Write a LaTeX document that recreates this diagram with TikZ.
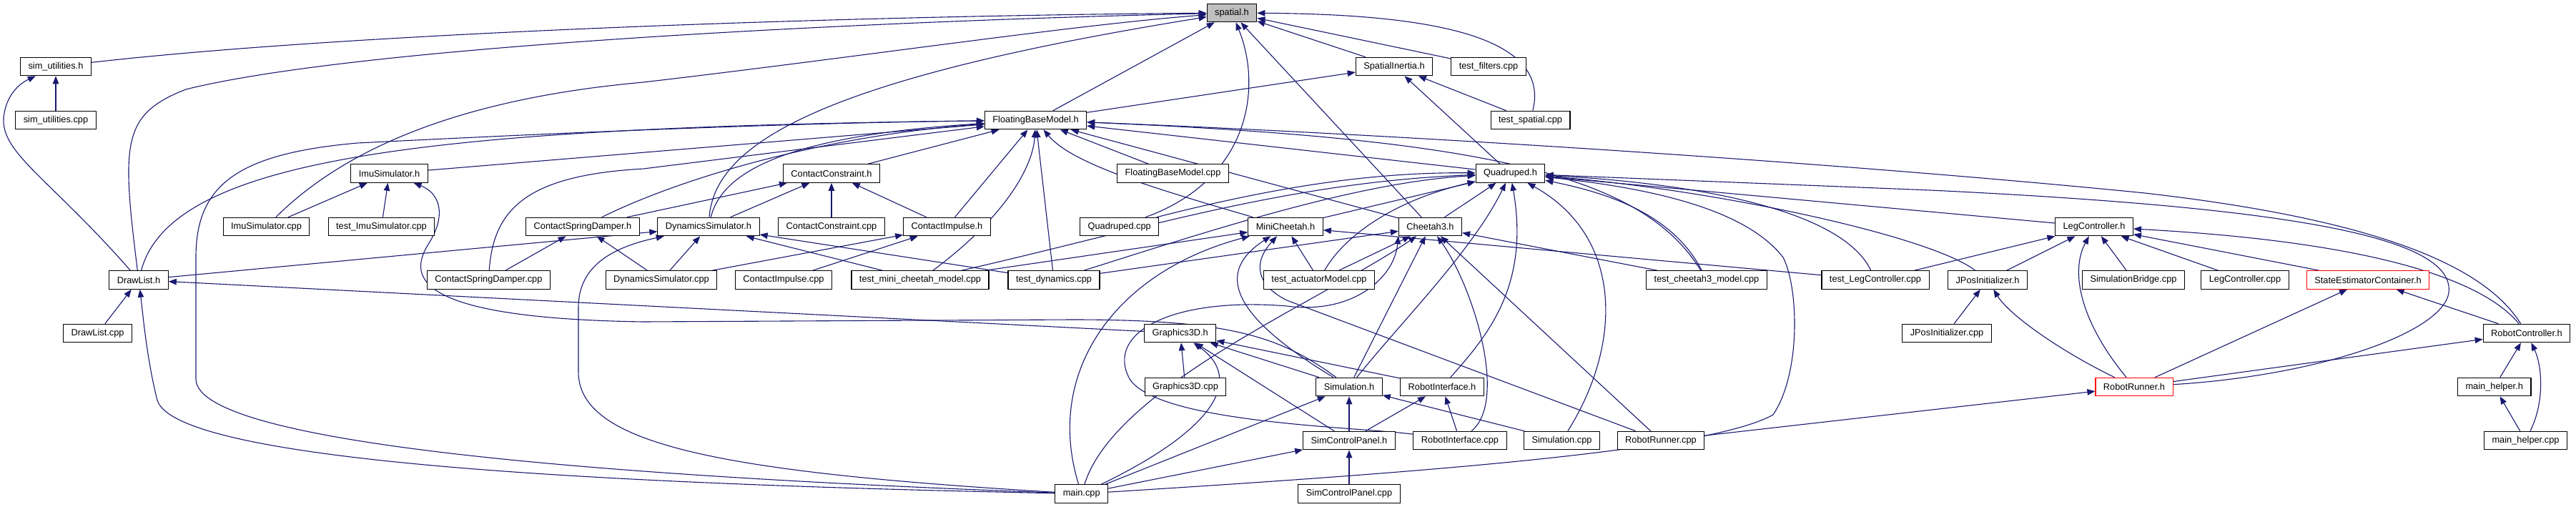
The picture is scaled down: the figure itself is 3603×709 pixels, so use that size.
\documentclass[tikz,border=0pt]{standalone}
\usepackage{fontspec}
\setmainfont{Liberation Sans}
\usetikzlibrary{arrows.meta, backgrounds}
\definecolor{edgeblue}{HTML}{191970}

\begin{document}
\begin{tikzpicture}[x=1pt, y=-1pt, font=\fontsize{12.8}{14}\selectfont]
\tikzset{file/.style={draw, fill=white, line width=1.1pt, rectangle, minimum height=25.5pt, inner xsep=11pt, inner ysep=0pt}, root/.style={file, fill=black!25}, warn/.style={file, draw=red}, dep/.style={draw=edgeblue, line width=1.1pt, -{Triangle[length=11pt, width=8.5pt]}}}
\useasboundingbox (0,0) rectangle (3603,709);
% rows of files, top to bottom
\node[root] (sp) at (1723,18) {spatial.h};
\node[file] (suh) at (78,93) {sim\_utilities.h}; \node[file] (si) at (1950,93) {SpatialInertia.h}; \node[file] (tf) at (2082,93) {test\_filters.cpp};
\node[file] (sucpp) at (78,168) {sim\_utilities.cpp}; \node[file] (fbm) at (1448.5,168) {FloatingBaseModel.h}; \node[file] (ts) at (2140.5,168) {test\_spatial.cpp};
\node[file] (imuh) at (544.5,242.5) {ImuSimulator.h}; \node[file] (cch) at (1163,242.5) {ContactConstraint.h}; \node[file] (fbmcpp) at (1640.5,242.5) {FloatingBaseModel.cpp}; \node[file] (qh) at (2112.5,242.5) {Quadruped.h};
\node[file] (imucpp) at (372.5,317) {ImuSimulator.cpp}; \node[file] (timu) at (533.5,317) {test\_ImuSimulator.cpp}; \node[file] (csdh) at (815,317) {ContactSpringDamper.h};
\node[file] (dsh) at (991,317) {DynamicsSimulator.h}; \node[file] (cccpp) at (1163,317) {ContactConstraint.cpp}; \node[file] (cih) at (1324.5,317) {ContactImpulse.h};
\node[file] (qcpp) at (1565.7,317) {Quadruped.cpp}; \node[file] (mch) at (1798,317) {MiniCheetah.h}; \node[file] (c3h) at (2000.5,317) {Cheetah3.h}; \node[file] (lch) at (2929,317) {LegController.h};
\node[file] (dlh) at (194,391.5) {DrawList.h}; \node[file] (csdcpp) at (683.4,391.5) {ContactSpringDamper.cpp}; \node[file] (dscpp) at (925,391.5) {DynamicsSimulator.cpp};
\node[file] (cicpp) at (1096,391.5) {ContactImpulse.cpp}; \node[file] (tmc) at (1287,391.5) {test\_mini\_cheetah\_model.cpp}; \node[file] (tdyn) at (1474,391.5) {test\_dynamics.cpp};
\node[file] (tact) at (1845,391.5) {test\_actuatorModel.cpp}; \node[file] (tc3) at (2387,391.5) {test\_cheetah3\_model.cpp}; \node[file] (tlc) at (2623,391.5) {test\_LegController.cpp};
\node[file] (jph) at (2780,391.5) {JPosInitializer.h}; \node[file] (sbr) at (2984,391.5) {SimulationBridge.cpp}; \node[file] (lccpp) at (3140,391.5) {LegController.cpp}; \node[warn] (sec) at (3312,391.5) {StateEstimatorContainer.h};
\node[file] (dlcpp) at (136.6,466) {DrawList.cpp}; \node[file] (g3h) at (1650.7,466) {Graphics3D.h}; \node[file] (jpcpp) at (2723,466) {JPosInitializer.cpp}; \node[file] (rch) at (3534,466) {RobotController.h};
\node[file] (g3cpp) at (1658,541) {Graphics3D.cpp}; \node[file] (simh) at (1887,541) {Simulation.h}; \node[file] (rih) at (2017,541) {RobotInterface.h}; \node[warn] (rrh) at (2985,541) {RobotRunner.h}; \node[file] (mhh) at (3488.7,541) {main\_helper.h};
\node[file] (scph) at (1887,616) {SimControlPanel.h}; \node[file] (ricpp) at (2042,616) {RobotInterface.cpp}; \node[file] (simcpp) at (2184.5,616) {Simulation.cpp}; \node[file] (rrcpp) at (2323,616) {RobotRunner.cpp}; \node[file] (mhcpp) at (3532.5,616) {main\_helper.cpp};
\node[file] (mn) at (1512.7,690.5) {main.cpp}; \node[file] (scpcpp) at (1887,690.5) {SimControlPanel.cpp};
\begin{scope}[on background layer]
% spatial.h
\draw[dep] (suh) .. controls (500,45) and (1200,22) .. (sp);
\draw[dep] (dlh) .. controls (170,200) and (170,160) .. (260,125) .. controls (500,65) and (1200,30) .. (sp);
\draw[dep] (imucpp) .. controls (470,220) and (620,140) .. (900,115) .. controls (1200,80) and (1500,35) .. (sp);
\draw[dep] (dsh) .. controls (1000,200) and (1150,110) .. (sp);
\draw[dep] (qcpp) .. controls (1750,250) and (1765,120) .. (sp);
\draw[dep] (ts) .. controls (2170,50) and (2000,20) .. (sp);
\draw[dep] (fbm) -- (sp); \draw[dep] (c3h) -- (sp); \draw[dep] (si) -- (sp); \draw[dep] (tf) -- (sp);
\draw[dep] (sucpp) -- (suh); \draw[dep] (ts) -- (si); \draw[dep] (fbm) -- (si); \draw[dep] (qh) -- (si);
% DrawList.h and ImuSimulator.h
\draw[dep] (dlh) .. controls (70,250) and (2,215) .. (5,165) .. controls (8,135) and (25,118) .. (suh);
\draw[dep] (dlh) .. controls (240,220) and (600,178) .. (fbm);
\draw[dep] (dlh) -- (dsh); \draw[dep] (dlcpp) -- (dlh); \draw[dep] (g3h) -- (dlh);
\draw[dep] (mn) .. controls (900,678) and (250,650) .. (220,560) .. controls (205,500) and (200,440) .. (dlh);
\draw[dep] (imuh) -- (fbm); \draw[dep] (imucpp) -- (imuh); \draw[dep] (timu) -- (imuh);
\draw[dep] (simh) .. controls (1790,470) and (1720,447) .. (1500,447) -- (900,450) .. controls (560,445) and (575,380) .. (600,340) .. controls (625,300) and (615,270) .. (imuh);
% contacts and dynamics
\draw[dep] (csdh) .. controls (950,250) and (1150,190) .. (fbm);
\draw[dep] (csdcpp) .. controls (690,290) and (740,245) .. (900,236) -- (fbm);
\draw[dep] (csdh) -- (cch); \draw[dep] (csdcpp) -- (csdh); \draw[dep] (dscpp) -- (csdh);
\draw[dep] (dsh) .. controls (1010,240) and (1100,190) .. (fbm);
\draw[dep] (dsh) -- (cch); \draw[dep] (dscpp) -- (dsh); \draw[dep] (dscpp) -- (cih); \draw[dep] (tmc) -- (dsh); \draw[dep] (tdyn) -- (dsh);
\draw[dep] (mn) .. controls (1000,660) and (809,620) .. (809,520) -- (809,430) .. controls (809,370) and (860,345) .. (dsh);
\draw[dep] (cch) -- (fbm); \draw[dep] (cccpp) -- (cch); \draw[dep] (cih) -- (cch); \draw[dep] (cih) -- (fbm); \draw[dep] (cicpp) -- (cih);
% FloatingBaseModel.h
\draw[dep] (fbmcpp) -- (fbm); \draw[dep] (qh) -- (fbm); \draw[dep] (c3h) -- (fbm); \draw[dep] (tdyn) -- (fbm);
\draw[dep] (mch) .. controls (1620,265) and (1500,230) .. (fbm);
\draw[dep] (tc3) .. controls (2300,250) and (2100,195) .. (fbm);
\draw[dep] (rch) .. controls (3480,380) and (3350,310) .. (3000,270) .. controls (2600,230) and (2000,190) .. (fbm);
\draw[dep] (tmc) .. controls (1410,300) and (1445,230) .. (fbm);
\draw[dep] (mn) .. controls (900,668) and (274,625) .. (274,530) -- (274,360) .. controls (274,260) and (330,215) .. (500,200) .. controls (800,185) and (1100,172) .. (fbm);
% Quadruped.h
\draw[dep] (qcpp) .. controls (1750,270) and (1900,240) .. (qh);
\draw[dep] (tmc) .. controls (1600,320) and (1800,255) .. (qh);
\draw[dep] (tdyn) .. controls (1700,320) and (1900,255) .. (qh);
\draw[dep] (mch) -- (qh); \draw[dep] (c3h) -- (qh); \draw[dep] (lch) -- (qh);
\draw[dep] (tact) .. controls (1880,330) and (1950,280) .. (qh);
\draw[dep] (simh) .. controls (1960,450) and (2060,350) .. (qh);
\draw[dep] (rih) .. controls (2080,470) and (2140,400) .. (qh);
\draw[dep] (simcpp) .. controls (2270,480) and (2270,330) .. (qh);
\draw[dep] (tc3) .. controls (2340,300) and (2250,270) .. (qh);
\draw[dep] (mn) .. controls (2000,660) and (2391,630) .. (2480,580) .. controls (2520,520) and (2515,400) .. (2494,360) .. controls (2440,290) and (2300,262) .. (qh);
\draw[dep] (tlc) .. controls (2580,300) and (2400,258) .. (qh);
\draw[dep] (jph) .. controls (2700,330) and (2400,265) .. (qh);
\draw[dep] (rrh) .. controls (3250,525) and (3435,460) .. (3425,400) .. controls (3415,330) and (3200,290) .. (2700,266) -- (qh);
% MiniCheetah.h and Cheetah3.h
\draw[dep] (tmc) -- (mch); \draw[dep] (tact) -- (mch); \draw[dep] (tlc) -- (mch);
\draw[dep] (mn) .. controls (1460,520) and (1560,380) .. (mch);
\draw[dep] (simh) .. controls (1720,440) and (1700,380) .. (mch);
\draw[dep] (rrcpp) -- (1800,420) .. controls (1760,400) and (1750,370) .. (mch);
\draw[dep] (tact) -- (c3h); \draw[dep] (tc3) -- (c3h); \draw[dep] (tdyn) -- (c3h); \draw[dep] (simh) -- (c3h); \draw[dep] (rrcpp) -- (c3h);
\draw[dep] (mn) .. controls (1560,540) and (1850,420) .. (c3h);
\draw[dep] (ricpp) .. controls (2110,560) and (2060,400) .. (c3h);
\draw[dep] (ricpp) .. controls (1900,597) and (1620,592) .. (1580,530) .. controls (1545,465) and (1640,415) .. (1800,428) .. controls (1890,440) and (1950,390) .. (c3h.south west);
% LegController.h and robot side
\draw[dep] (tlc) -- (lch); \draw[dep] (jph) -- (lch); \draw[dep] (sbr) -- (lch); \draw[dep] (lccpp) -- (lch); \draw[dep] (sec) -- (lch);
\draw[dep] (rch) .. controls (3480,400) and (3350,340) .. (lch);
\draw[dep] (rrh) .. controls (2910,450) and (2895,380) .. (lch);
\draw[dep] (jpcpp) -- (jph);
\draw[dep] (rrh) .. controls (2880,490) and (2810,440) .. (jph);
\draw[dep] (rrh) -- (sec); \draw[dep] (rrh) -- (rch); \draw[dep] (rch) -- (sec); \draw[dep] (rrcpp) -- (rrh);
\draw[dep] (mhh) -- (rch); \draw[dep] (mhcpp) -- (mhh);
\draw[dep] (mhcpp) .. controls (3560,560) and (3555,510) .. (rch);
% Graphics3D.h and simulation
\draw[dep] (g3cpp) -- (g3h); \draw[dep] (simh) -- (g3h); \draw[dep] (rih) -- (g3h); \draw[dep] (scph) -- (g3h);
\draw[dep] (mn) .. controls (1700,600) and (1740,530) .. (g3h);
\draw[dep] (scph) -- (simh); \draw[dep] (simcpp) -- (simh); \draw[dep] (mn) -- (simh); \draw[dep] (mn) -- (scph);
\draw[dep] (scpcpp) -- (scph); \draw[dep] (scph) -- (rih); \draw[dep] (ricpp) -- (rih);
\end{scope}
\end{tikzpicture}
\end{document}
